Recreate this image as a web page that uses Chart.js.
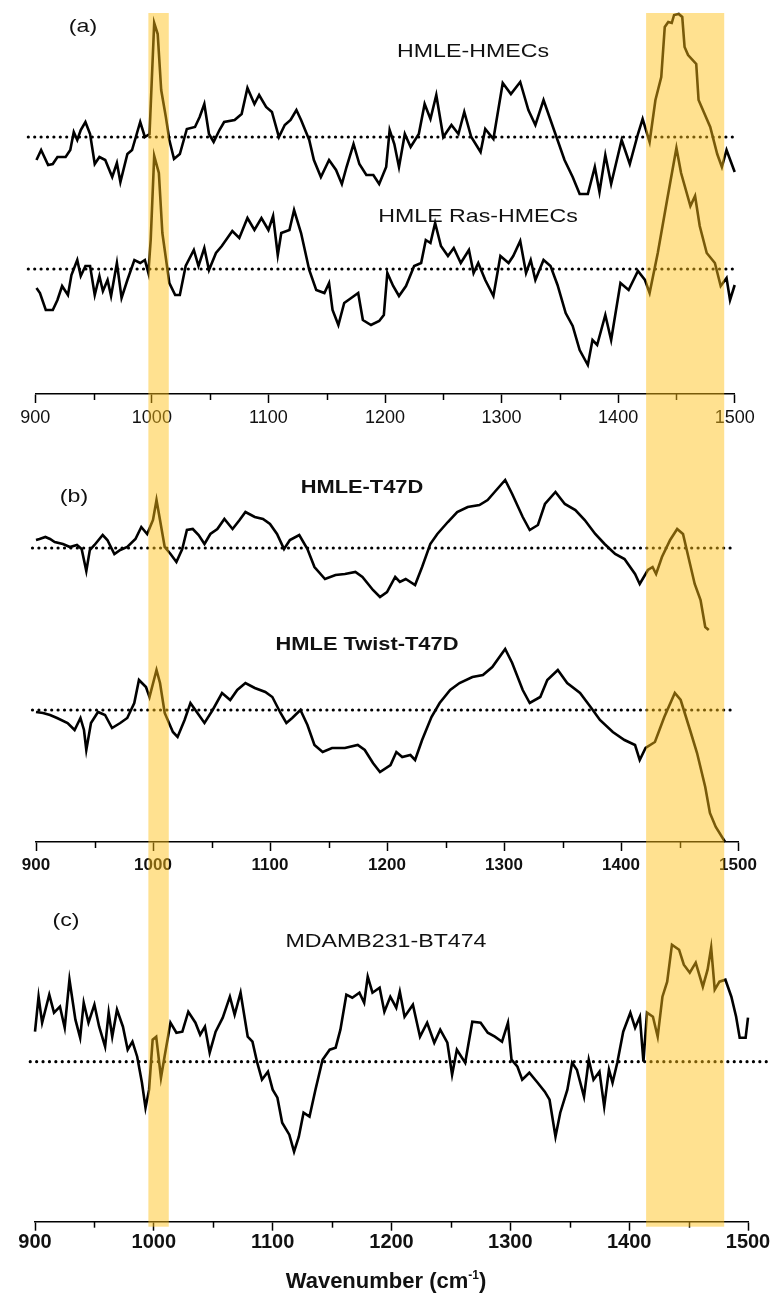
<!DOCTYPE html>
<html lang="en">
<head>
<meta charset="UTF-8" />
<title>Raman difference spectra</title>
<script src="https://cdn.jsdelivr.net/npm/chart.js"></script>
<style>
  body { margin: 0; background: #fff; font-family: 'Liberation Sans', Arial, sans-serif; }
  #page { position: relative; width: 781px; height: 1309px; overflow: hidden; }
  canvas { position: absolute; left: 0; }
  .lbl { position: absolute; transform: translate(-50%, -50%) scaleX(1.22); white-space: nowrap;
         color: #111; font-size: 19px; line-height: 1; z-index: 2; }
  .bold { font-weight: bold; transform: translate(-50%, -50%) scaleX(1.15); }
  #xtitle { position: absolute; left: 386px; top: 1280px; transform: translate(-50%, -50%);
            font-weight: bold; font-size: 22px; line-height: 1; color: #111; white-space: nowrap; }
  #xtitle sup { font-size: 12px; vertical-align: 9px; }
</style>
</head>
<body>
<div id="page">
  <canvas id="panelA" width="781" height="430" style="top:0px"></canvas>
  <canvas id="panelB" width="781" height="455" style="top:430px"></canvas>
  <canvas id="panelC" width="781" height="424" style="top:885px"></canvas>

  <div class="lbl" style="left:83px; top:25px">(a)</div>
  <div class="lbl" style="left:473px; top:50px">HMLE-HMECs</div>
  <div class="lbl" style="left:478px; top:215px">HMLE Ras-HMECs</div>
  <div class="lbl" style="left:74px; top:495px">(b)</div>
  <div class="lbl bold" style="left:362px; top:486px">HMLE-T47D</div>
  <div class="lbl bold" style="left:367px; top:643px">HMLE Twist-T47D</div>
  <div class="lbl" style="left:66px; top:919px">(c)</div>
  <div class="lbl" style="left:386px; top:940px">MDAMB231-BT474</div>
  <div id="xtitle">Wavenumber (cm<sup>-1</sup>)</div>
</div>

<script>
// highlighted spectral windows (cm-1)
const bandRanges = [[997, 1014.5], [1424, 1491]];

// (a) HMLE-HMECs
const hmecsX = [901, 905, 911, 915, 919, 926, 930, 933, 936, 939, 943, 947, 951, 955, 960, 966, 970, 973, 979, 983,
  990, 994, 998, 1002, 1005, 1008, 1012, 1015, 1019, 1024, 1030, 1037, 1041, 1045, 1049, 1053, 1058, 1062, 1071, 1077,
  1082, 1088, 1092, 1098, 1103, 1109, 1114, 1119, 1124, 1128, 1135, 1139, 1145, 1152, 1158, 1163, 1167, 1173, 1178, 1184,
  1190, 1195, 1201, 1204, 1208, 1212, 1217, 1222, 1229, 1234, 1239, 1244, 1250, 1257, 1263, 1268, 1274, 1282, 1286, 1293,
  1301, 1308, 1316, 1323, 1329, 1336, 1342, 1348, 1354, 1361, 1367, 1374, 1380, 1384, 1389, 1394, 1403, 1410, 1417, 1421,
  1427, 1432, 1437, 1440, 1443, 1446, 1448, 1452, 1455, 1457, 1460, 1467, 1469, 1479, 1485, 1489, 1493, 1500];
const hmecsY = [-23, -13, -28, -27, -20, -20, -13, 5, -3, 7, 15, 3, -27, -20, -23, -40, -26, -45, -17, -13,
  15, 0, 3, 114, 103, 47, 20, -3, -22, -17, 8, 10, 20, 33, 3, -5, 7, 15, 17, 23,
  49, 33, 42, 30, 25, 0, 12, 17, 27, 17, -3, -23, -40, -23, -33, -47, -30, -7, -27, -38,
  -38, -47, -30, 7, -7, -30, 3, -10, 3, 33, 18, 42, 0, 12, 3, 25, 0, -15, 8, -2,
  54, 43, 55, 27, 12, 37, 17, -3, -23, -40, -57, -57, -30, -55, -18, -47, -3, -27, 3, 18,
  -5, 37, 60, 110, 115, 114, 122, 123, 120, 90, 82, 73, 37, 10, -17, -30, -13, -35];

// (a) HMLE Ras-HMECs
const rasX = [901, 904, 909, 915, 919, 923, 928, 931, 934, 936, 939, 943, 947, 951, 955, 958, 962, 965, 970, 974,
  979, 985, 990, 994, 997, 999, 1002, 1006, 1009, 1015, 1020, 1024, 1029, 1036, 1040, 1045, 1049, 1055, 1060, 1069,
  1075, 1082, 1088, 1094, 1100, 1104, 1108, 1111, 1118, 1122, 1128, 1135, 1141, 1148, 1152, 1155, 1160, 1165, 1171, 1177,
  1181, 1188, 1195, 1199, 1202, 1207, 1212, 1218, 1225, 1231, 1235, 1239, 1243, 1248, 1254, 1259, 1265, 1272, 1276, 1280,
  1286, 1293, 1299, 1306, 1310, 1316, 1321, 1325, 1329, 1336, 1342, 1348, 1355, 1361, 1367, 1374, 1378, 1382, 1389, 1394,
  1402, 1409, 1417, 1423, 1427, 1434, 1442, 1450, 1454, 1462, 1466, 1470, 1476, 1483, 1488, 1493, 1496, 1500];
const rasY = [-19, -24, -41, -41, -31, -17, -26, -6, 3, 9, -7, 3, 3, -26, -7, -22, -11, -27, 6, -29,
  -11, 9, 6, 9, -4, 29, 113, 96, 36, -14, -26, -26, 3, 19, 3, 21, -1, 16, 23, 38,
  31, 51, 39, 51, 39, 53, 14, 36, 39, 59, 36, -1, -21, -24, -14, -41, -56, -34, -29, -24,
  -51, -56, -52, -46, -4, -17, -27, -17, 3, 6, 29, 26, 46, 23, 13, 21, 6, 19, -4, 6,
  -11, -27, 13, 6, 13, 28, -4, 9, -11, 9, 3, -16, -44, -57, -81, -96, -71, -76, -46, -71,
  -14, -21, -2, -11, -24, 16, 69, 121, 96, 63, 73, 43, 16, 6, -17, -9, -31, -16];

// (b) HMLE-T47D
const t47dX = [900, 903, 908, 912, 916, 923, 929, 935, 939, 943, 946, 950, 957, 961, 967, 972, 978, 985, 990, 995,
  1000, 1003, 1006, 1010, 1015, 1020, 1025, 1029, 1034, 1039, 1044, 1049, 1055, 1061, 1068, 1074, 1079, 1087, 1094, 1100,
  1106, 1112, 1117, 1125, 1132, 1138, 1147, 1156, 1164, 1173, 1179, 1188, 1194, 1200, 1207, 1211, 1216, 1224, 1230, 1237,
  1243, 1252, 1260, 1269, 1279, 1286, 1292, 1301, 1307, 1316, 1322, 1329, 1335, 1344, 1352, 1361, 1369, 1378, 1386, 1395,
  1403, 1412, 1416, 1423, 1427, 1430, 1435, 1442, 1448, 1453, 1459, 1463, 1468, 1472, 1475];
const t47dY = [8, 9, 11, 9, 6, 4, 1, 3, -1, -23, -2, 3, 13, 8, -6, -2, 1, 9, 21, 14,
  28, 48, 28, 1, -6, -14, -1, 18, 19, 13, 4, 14, 19, 29, 19, 28, 36, 31, 29, 24,
  14, -1, 8, 13, -1, -19, -31, -27, -26, -24, -29, -42, -49, -44, -29, -34, -31, -37, -19, 4,
  14, 26, 36, 41, 43, 48, 56, 68, 54, 31, 18, 23, 44, 56, 44, 38, 28, 14, 4, -6,
  -11, -26, -36, -22, -19, -26, -9, 8, 19, 14, -16, -36, -52, -79, -82];

// (b) HMLE Twist-T47D
const twistX = [900, 906, 912, 918, 927, 933, 938, 941, 943, 947, 953, 959, 965, 972, 978, 984, 988, 994, 997, 1003,
  1006, 1010, 1017, 1021, 1027, 1032, 1038, 1044, 1051, 1059, 1066, 1072, 1079, 1087, 1096, 1102, 1109, 1114, 1119, 1126,
  1132, 1138, 1145, 1153, 1164, 1175, 1181, 1188, 1194, 1203, 1208, 1213, 1220, 1224, 1230, 1238, 1245, 1254, 1262, 1273,
  1282, 1290, 1301, 1307, 1316, 1322, 1331, 1337, 1346, 1354, 1365, 1374, 1382, 1393, 1403, 1412, 1416, 1421, 1429, 1437,
  1446, 1451, 1459, 1465, 1472, 1476, 1481, 1489];
const twistY = [-2, -3, -5, -8, -13, -20, -8, -20, -40, -13, -2, -5, -18, -13, -8, 7, 30, 23, 13, 40,
  27, -3, -22, -27, -10, 7, -3, -13, 0, 17, 10, 20, 27, 22, 18, 13, -3, -13, -8, 0,
  -15, -35, -42, -38, -38, -35, -40, -53, -62, -55, -42, -47, -45, -50, -30, -7, 7, 20, 27, 33,
  35, 43, 61, 47, 20, 7, 13, 30, 40, 27, 17, 3, -10, -22, -30, -35, -50, -38, -32, -7,
  17, 10, -20, -43, -77, -103, -117, -132];

// (c) MDAMB231-BT474
const mdaX = [900, 903, 906, 912, 916, 921, 925, 929, 934, 938, 941, 945, 950, 954, 959, 962, 965, 969, 974, 978,
  982, 986, 990, 993, 996, 999, 1002, 1006, 1009, 1014, 1019, 1024, 1029, 1035, 1039, 1043, 1047, 1052, 1058, 1064,
  1068, 1073, 1079, 1083, 1087, 1091, 1096, 1100, 1104, 1108, 1114, 1118, 1122, 1126, 1131, 1136, 1142, 1148, 1153, 1157,
  1162, 1167, 1173, 1177, 1180, 1184, 1190, 1194, 1199, 1204, 1207, 1211, 1218, 1224, 1230, 1236, 1241, 1247, 1251, 1255,
  1262, 1268, 1275, 1281, 1287, 1293, 1298, 1301, 1306, 1310, 1316, 1323, 1329, 1333, 1338, 1342, 1348, 1352, 1356, 1362,
  1366, 1370, 1375, 1379, 1383, 1386, 1390, 1395, 1401, 1405, 1409, 1412, 1415, 1420, 1424, 1428, 1432, 1436, 1442, 1446,
  1451, 1456, 1462, 1466, 1469, 1472, 1476, 1481, 1486, 1490, 1493, 1498, 1500];
const mdaY = [30, 65, 39, 67, 49, 55, 34, 82, 42, 24, 59, 39, 57, 35, 15, 49, 25, 52, 35, 12,
  20, 5, -21, -46, -28, 22, 25, -16, 5, 39, 29, 30, 50, 39, 27, 35, 9, 30, 44, 65,
  47, 69, 25, 20, -1, -18, -10, -28, -36, -61, -73, -90, -75, -51, -55, -28, 2, 12, 14, 32,
  67, 64, 69, 59, 85, 69, 74, 50, 65, 54, 70, 45, 57, 25, 39, 19, 32, 19, -13, 12,
  -1, 40, 39, 29, 25, 20, 39, 2, -5, -18, -11, -21, -30, -38, -75, -51, -28, -1, -8, -35,
  2, -18, -10, -45, -8, -21, -1, 30, 49, 34, 45, 0, 49, 45, 25, 65, 80, 117, 112, 97,
  89, 99, 75, 92, 114, 72, 80, 82, 65, 45, 24, 24, 44];

// vertical offsets of each trace's zero line, and span of the dotted zero lines
const offsetsA = [257, 125];
const offsetsB = [294, 132];
const offsetsC = [160];
const zeroSpanA = [894, 1501];
const zeroSpanB = [897, 1497];
const zeroSpanC = [896, 1520];

let refScale = null;

const overlayPlugin = {
  id: 'overlay',
  afterDraw(chart, args, opts) {
    const ctx = chart.ctx;
    const sx = chart.scales.x;
    const area = chart.chartArea;
    // minor ticks every 50
    ctx.save();
    ctx.strokeStyle = '#000';
    ctx.lineWidth = 1.5;
    for (let v = 950; v < 1500; v += 100) {
      const px = Math.round(sx.getPixelForValue(v)) + 0.5;
      ctx.beginPath();
      ctx.moveTo(px, area.bottom);
      ctx.lineTo(px, area.bottom + 6);
      ctx.stroke();
    }
    // yellow highlight bands, one column through all panels
    const bx = refScale || sx;
    const top = opts.fromArea ? area.top : 0;
    const bottom = opts.toArea ? area.bottom + 5 : chart.height;
    ctx.fillStyle = 'rgba(255, 192, 20, 0.47)';
    bandRanges.forEach(([a, b]) => {
      const x1 = bx.getPixelForValue(a), x2 = bx.getPixelForValue(b);
      ctx.fillRect(x1, top, x2 - x1, bottom - top);
    });
    ctx.restore();
  }
};

function pts(xs, ys, off) {
  return xs.map((x, i) => ({ x: x, y: ys[i] + off }));
}

function traceSet(xs, ys, off) {
  return { data: pts(xs, ys, off), borderColor: '#000', borderWidth: 2.6, pointRadius: 0, tension: 0, clip: false };
}

function zeroSet(span, off) {
  return { data: span.map(x => ({ x: x, y: off })), borderColor: '#000', borderWidth: 3.2,
           borderDash: [0, 6.4], borderCapStyle: 'round', pointRadius: 0, clip: false };
}

function makeChart(id, datasets, o) {
  return new Chart(document.getElementById(id), {
    type: 'line',
    data: { datasets: datasets },
    options: {
      responsive: false,
      animation: false,
      events: [],
      layout: { padding: o.padding },
      plugins: { legend: { display: false }, tooltip: { enabled: false }, overlay: o.overlay },
      scales: {
        x: {
          type: 'linear', min: 900, max: 1500,
          border: { display: true, color: '#000', width: 1.5 },
          grid: { drawOnChartArea: false, drawTicks: true, tickLength: 9, tickWidth: 1.5, tickColor: '#000' },
          ticks: { stepSize: 100, autoSkip: false, maxRotation: 0, padding: o.tickPad, color: '#111',
                   font: o.font, callback: v => String(v) },
          afterFit: s => { s.height = o.axisH; }
        },
        y: { display: false, min: 0, max: o.ymax }
      }
    },
    plugins: [overlayPlugin]
  });
}

const chartA = makeChart('panelA', [
  zeroSet(zeroSpanA, offsetsA[0]), zeroSet(zeroSpanA, offsetsA[1]),
  traceSet(hmecsX, hmecsY, offsetsA[0]), traceSet(rasX, rasY, offsetsA[1])
], { padding: { left: 35.3, right: 46.3, top: 13, bottom: 0 }, axisH: 36, ymax: 381, tickPad: 4,
     font: { family: 'Liberation Sans', size: 18 }, overlay: { fromArea: true } });

refScale = chartA.scales.x;

makeChart('panelB', [
  zeroSet(zeroSpanB, offsetsB[0]), zeroSet(zeroSpanB, offsetsB[1]),
  traceSet(t47dX, t47dY, offsetsB[0]), traceSet(twistX, twistY, offsetsB[1])
], { padding: { left: 36, right: 43, top: 10, bottom: 3 }, axisH: 40, ymax: 402, tickPad: 4,
     font: { family: 'Liberation Sans', size: 17, weight: 'bold' }, overlay: {} });

makeChart('panelC', [
  zeroSet(zeroSpanC, offsetsC[0]),
  traceSet(mdaX, mdaY, offsetsC[0])
], { padding: { left: 35, right: 33, top: 10, bottom: 47.3 }, axisH: 40, ymax: 326.7, tickPad: 0,
     font: { family: 'Liberation Sans', size: 20, weight: 'bold' }, overlay: { toArea: true } });
</script>
</body>
</html>
